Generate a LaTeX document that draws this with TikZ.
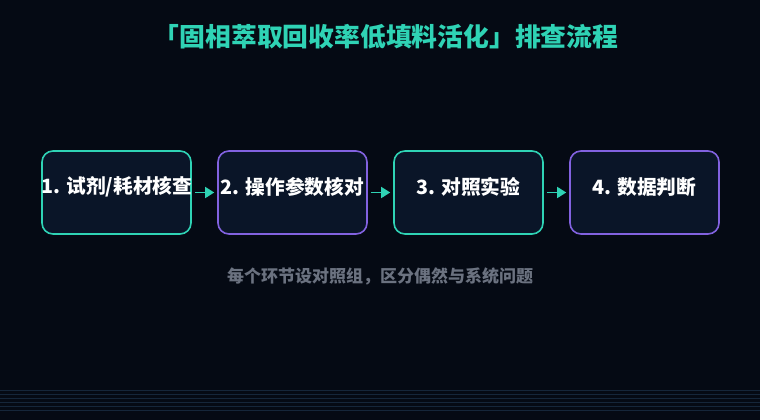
\documentclass[tikz,border=0pt]{standalone}
\usepackage{fontspec}
\setmainfont{Noto Sans CJK SC}
\usetikzlibrary{arrows.meta}
\definecolor{bgc}{HTML}{050A14}
\definecolor{boxfill}{HTML}{0A1528}
\definecolor{teal}{HTML}{2FD3B5}
\definecolor{purp}{HTML}{8262E0}
\definecolor{subg}{HTML}{6B7280}
\definecolor{linec}{HTML}{15263A}
\tikzset{
  stepbox/.style={draw, line width=1.6pt, fill=boxfill, rounded corners=11pt, minimum width=149pt, minimum height=83pt, inner sep=0pt},
  tealbox/.style={stepbox, draw=teal},
  purpbox/.style={stepbox, draw=purp},
  steptext/.style={text=white, font=\bfseries\fontsize{19.7}{23}\selectfont, inner sep=0pt},
  flow/.style={draw=teal, line width=1.6pt, -{Triangle[length=9pt,width=11pt]}, shorten <=3pt, shorten >=3pt},
}
\begin{document}
\begin{tikzpicture}[x=1pt,y=-1pt]
\fill[bgc] (0,0) rectangle (760,420);
\useasboundingbox (0,0) rectangle (760,420);
\foreach \yy in {390,394,...,410} \draw[linec, line width=0.6pt] (0,\yy) -- (760,\yy);
\node[text=teal, font=\bfseries\fontsize{25.8}{30}\selectfont] (title) at (386,37) {「固相萃取回收率低填料活化」排查流程};
\node[tealbox] (b1) at (116.5,192.5) {};
\node[purpbox] (b2) at (292.5,192.5) {};
\node[tealbox] (b3) at (468.5,192.5) {};
\node[purpbox] (b4) at (644.5,192.5) {};
\node[steptext] (t1) at (117,187) {1. 试剂/耗材核查};
\node[steptext] (t2) at (292.5,187) {2. 操作参数核对};
\node[steptext] (t3) at (468.5,187) {3. 对照实验};
\node[steptext] (t4) at (644.5,187) {4. 数据判断};
\draw[flow] (b1) -- (b2);
\draw[flow] (b2) -- (b3);
\draw[flow] (b3) -- (b4);
\node[text=subg, font=\bfseries\fontsize{17}{20}\selectfont] (sub) at (380,276) {每个环节设对照组，区分偶然与系统问题};
\end{tikzpicture}
\end{document}
